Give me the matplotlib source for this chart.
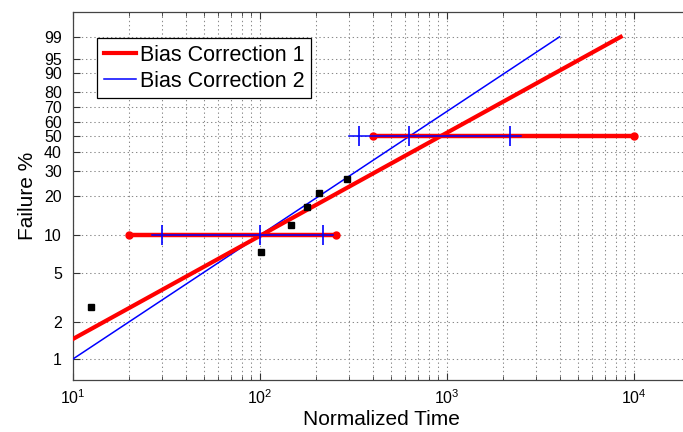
import matplotlib

matplotlib.use("Agg")
import matplotlib.pyplot as plt
import numpy as np
from matplotlib.ticker import FixedLocator, LogLocator, NullFormatter

# fitted lines (end points, straight on Weibull paper)
fit1_time = [10, 8500]
fit1_pct = [1.46, 99]
fit2_time = [10, 4000]
fit2_pct = [1, 99]

# observed failures
obs_time = [12.5, 101, 147, 178, 207, 292]
obs_pct = [2.66, 7.36, 12.0, 16.7, 21.2, 26.7]

# interval bars, bias correction 1 (low end, high end)
bc1_levels = [10, 50]
bc1_low = [20, 400]
bc1_high = [255, 10000]

# interval bars, bias correction 2 (line extent and tick positions)
bc2_levels = [10, 50]
bc2_line_low = [26.4, 300]
bc2_line_high = [245, 2490]
bc2_ticks = [[30, 100, 217], [338, 627, 2173]]

y_ticks = [1, 2, 5, 10, 20, 30, 40, 50, 60, 70, 80, 90, 95, 99]

RED = "#ff0000"
BLUE = "#0000ff"
GRID = "#8a8a8a"

plt.rcParams["font.family"] = ["Liberation Sans", "DejaVu Sans"]
plt.rcParams["mathtext.default"] = "regular"


def _weibull_fwd(p):
    p = np.clip(np.asarray(p, dtype=float), 1e-9, 100 - 1e-9)
    return np.log(-np.log(1 - p / 100.0))


def _weibull_inv(w):
    return 100.0 * (1 - np.exp(-np.exp(np.asarray(w, dtype=float))))


fig = plt.figure(figsize=(6.83, 4.32), dpi=100)
fig.patch.set_facecolor("white")
ax = fig.add_axes([73 / 683, 52 / 432, 617 / 683, 368 / 432])
ax.set_facecolor("white")

ax.set_xscale("log")
ax.set_yscale("function", functions=(_weibull_fwd, _weibull_inv))

# fit lines
ax.plot(fit2_time, fit2_pct, color=BLUE, lw=1.1, zorder=3, label="Bias Correction 2")
ax.plot(fit1_time, fit1_pct, color=RED, lw=3.0, zorder=4, label="Bias Correction 1")

# interval bars
for lvl, lo, hi in zip(bc1_levels, bc1_low, bc1_high):
    ax.plot([lo, hi], [lvl, lvl], color=RED, lw=3.2, marker="o", ms=5,
            mec=RED, mfc=RED, zorder=5)
for lvl, lo, hi, ticks in zip(bc2_levels, bc2_line_low, bc2_line_high, bc2_ticks):
    ax.plot([lo, hi], [lvl, lvl], color=BLUE, lw=1.1, zorder=6)
    ax.plot(ticks, [lvl] * len(ticks), ls="none", marker="|", ms=15,
            mew=1.2, color=BLUE, zorder=6)

ax.plot(obs_time, obs_pct, ls="none", marker="s", ms=5, color="black", zorder=7)

ax.set_xlim(10, 10 ** 4.3)
ax.set_ylim(_weibull_inv(-5), _weibull_inv(2))

ax.xaxis.set_major_locator(LogLocator(base=10, numticks=10))
ax.xaxis.set_minor_locator(LogLocator(base=10, subs=np.arange(2, 10), numticks=20))
ax.xaxis.set_minor_formatter(NullFormatter())
ax.yaxis.set_major_locator(FixedLocator(y_ticks))
ax.yaxis.set_minor_locator(FixedLocator([]))
ax.set_yticks(y_ticks)
ax.set_yticklabels([str(t) for t in y_ticks])

ax.tick_params(axis="both", which="both", direction="in", top=True,
               labelsize=11.5, colors="#333333", labelcolor="black")
ax.tick_params(axis="both", which="major", length=5, width=0.8)
ax.tick_params(axis="x", which="minor", length=3, width=0.6)
ax.tick_params(axis="x", pad=6)
ax.tick_params(axis="y", pad=8)

dots = (0, (1.3, 2.7))
ax.grid(True, which="major", axis="both", linestyle=dots, linewidth=0.75, color=GRID)
ax.grid(True, which="minor", axis="x", linestyle=dots, linewidth=0.75, color=GRID)
ax.set_axisbelow(True)

for name in ["top", "bottom", "left"]:
    ax.spines[name].set_color("#444444")
    ax.spines[name].set_linewidth(0.9)
ax.spines["right"].set_visible(False)

ax.set_xlabel("Normalized Time", fontsize=15, labelpad=2)
ax.set_ylabel("Failure %", fontsize=15, labelpad=5)

handles, labels = ax.get_legend_handles_labels()
leg = ax.legend(handles[::-1], labels[::-1], loc="upper left",
                bbox_to_anchor=(0.039, 0.929), borderaxespad=0, fontsize=15.5,
                frameon=True, fancybox=False, framealpha=1, edgecolor="black",
                handlelength=1.5, handletextpad=0.2, labelspacing=0.25,
                borderpad=0.3)
leg.get_frame().set_linewidth(0.9)

fig.savefig("out.png", dpi=100, facecolor="white")
plt.close(fig)
